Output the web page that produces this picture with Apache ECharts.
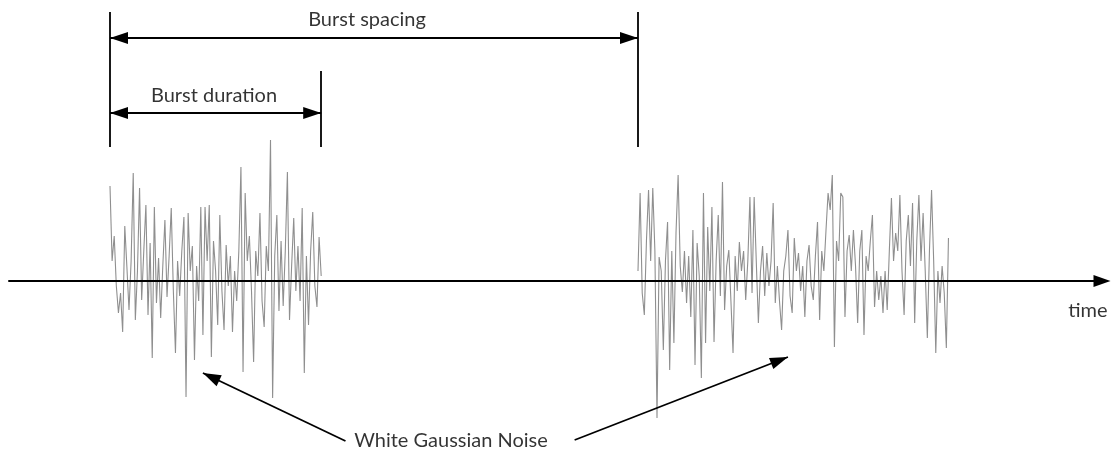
<!DOCTYPE html>
<html>
<head>
<meta charset="utf-8">
<script src="https://cdn.jsdelivr.net/npm/echarts@6/dist/echarts.min.js"></script>
<style>
html,body{margin:0;padding:0;background:#fff;}
#chart{width:1112px;height:455px;}
</style>
</head>
<body>
<div id="chart"></div>
<script>
// time in ms, amplitude in arbitrary units
const sampleStep = 0.2;
const burst1Start = 0;
const burst2Start = 50;
const burst1Values = [95,20,45,-5,-32,-12,-51,55,14,-29,20,108,-39,10,93,-19,30,76,-34,38,-77,74,-22,23,-37,15,61,-16,25,73,-10,-72,20,-15,30,64,-116,68,10,35,-79,15,-20,74,-54,74,20,76,-76,40,10,-44,66,-10,-49,36,-5,25,-51,10,-20,30,114,-91,88,20,45,-10,-81,30,5,68,-20,-46,35,10,141,-117,25,66,-30,40,-25,30,109,-39,15,63,-10,35,-20,73,-92,25,-44,30,69,-5,-26,44,5];
const burst2Values = [10,88,-12,-34,40,91,20,93,30,-137,24,10,-69,20,59,-89,30,-62,48,106,15,-11,30,-22,25,-36,51,-84,38,5,-97,88,-62,54,-10,74,-61,20,66,-15,99,-29,15,31,-20,-72,25,-10,39,10,30,-19,20,84,-12,84,20,-42,10,35,-15,28,-5,20,78,-22,15,-20,-49,10,25,51,-15,-32,43,10,28,-10,15,-36,20,36,-5,-19,25,59,-39,30,10,50,88,71,106,-66,40,20,88,84,-36,30,46,10,51,15,-42,30,51,-54,25,10,40,66,-26,10,-19,5,-32,10,-29,30,83,20,48,30,86,10,-34,40,66,15,78,-42,40,86,20,68,10,-57,30,91,20,-72,10,-22,15,-12,-67,43];

// annotation geometry (data coordinates: [ms, amplitude])
const markerTimes = [0, 20, 50];
const markerTops = [269, 210, 269];
const markerBottom = 134;
const spacingArrow = [[0, 243], [50, 243]];
const durationArrow = [[0, 168], [20, 168]];
const noiseArrows = [[[22.3, -160], [8.8, -92]], [[44.0, -159], [64.2, -76]]];
const labelTexts = ['Burst spacing', 'Burst duration', 'White Gaussian Noise', 'time'];
const labelPos = [[24.34, 261], [9.85, 185], [32.29, -160], [92.61, -30]];

function toSeries(start, vals) {
  return vals.map((v, i) => [+(start + i * sampleStep).toFixed(3), v]);
}

const arrowSize = [12, 18];
function arrowPair(a, b, both) {
  return [
    both ? {coord: a, symbol: 'triangle', symbolSize: arrowSize, symbolOffset: [0, 9]} : {coord: a, symbol: 'none'},
    {coord: b, symbol: 'triangle', symbolSize: arrowSize, symbolOffset: [0, 9]}
  ];
}

const markData = [];
markerTimes.forEach((t, i) => {
  markData.push([{coord: [t, markerBottom], symbol: 'none'}, {coord: [t, markerTops[i]], symbol: 'none'}]);
});
markData.push(arrowPair(spacingArrow[0], spacingArrow[1], true));
markData.push(arrowPair(durationArrow[0], durationArrow[1], true));
noiseArrows.forEach(a => markData.push(arrowPair(a[0], a[1], false)));

const chart = echarts.init(document.getElementById('chart'), null, {renderer: 'canvas'});
const noiseStyle = {color: '#8f8f8f', width: 1.1};
chart.setOption({
  animation: false,
  grid: {left: 9, right: 10, top: 0, bottom: 0},
  xAxis: {
    type: 'value', min: -9.564, max: 93.94, z: 5,
    axisLine: {show: true, onZero: true, lineStyle: {color: '#000', width: 2},
      symbol: ['none', 'triangle'], symbolSize: [12, 17]},
    axisTick: {show: false}, axisLabel: {show: false}, splitLine: {show: false}
  },
  yAxis: {
    type: 'value', min: -174, max: 281, show: false, splitLine: {show: false}
  },
  series: [
    {
      type: 'line', data: toSeries(burst1Start, burst1Values), showSymbol: false,
      lineStyle: noiseStyle, silent: true,
      markLine: {
        silent: true, animation: false,
        label: {show: false},
        lineStyle: {color: '#000', width: 1.8, type: 'solid'},
        emphasis: {disabled: true},
        data: markData
      }
    },
    {
      type: 'line', data: toSeries(burst2Start, burst2Values), showSymbol: false,
      lineStyle: noiseStyle, silent: true
    },
    {
      type: 'scatter', symbolSize: 0, silent: true,
      data: labelTexts.map((t, i) => ({name: t, value: labelPos[i]})),
      label: {
        show: true, position: 'inside', formatter: p => p.name,
        fontFamily: 'Lato', fontSize: 20, color: '#000'
      }
    }
  ]
});
</script>
</body>
</html>
